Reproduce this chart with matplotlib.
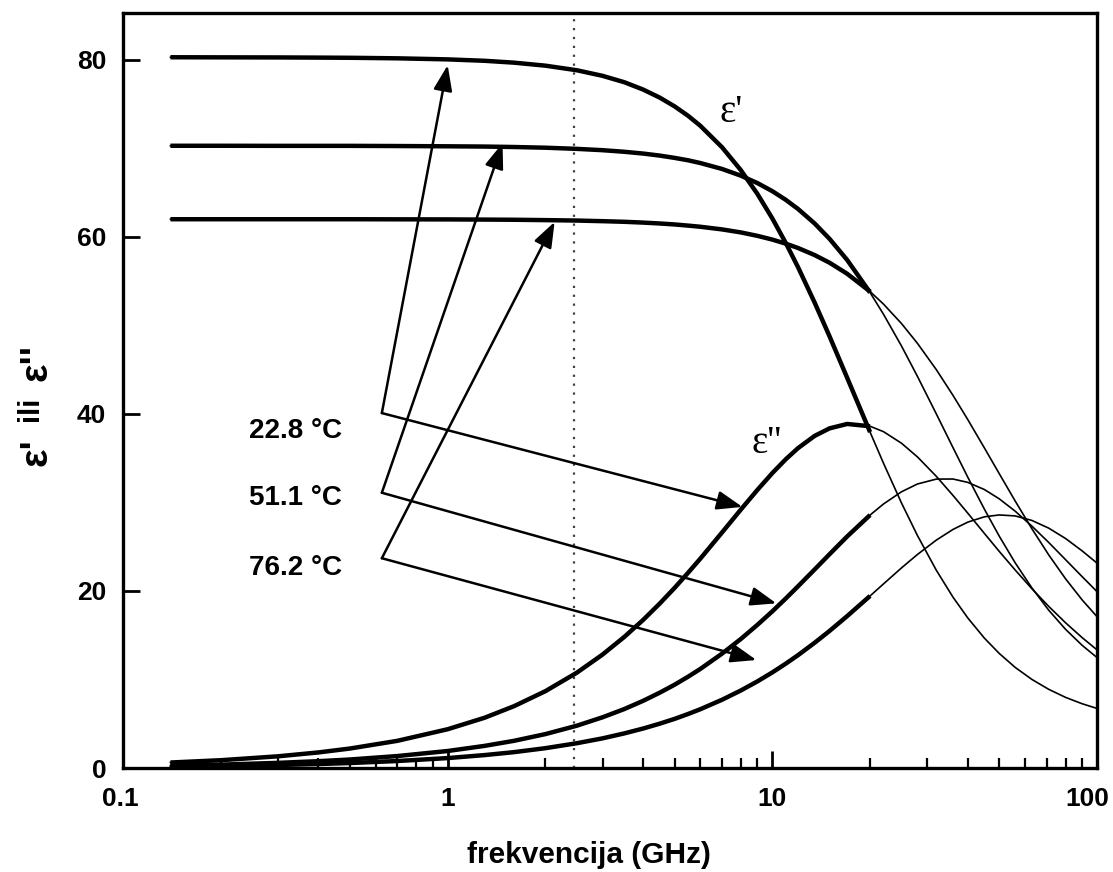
import matplotlib
matplotlib.use("Agg")
import matplotlib.pyplot as plt
import matplotlib.transforms as mtransforms
from matplotlib.ticker import LogLocator, NullFormatter, NullLocator

# ---------------- data ----------------
freq_ghz = [0.14, 0.2, 0.3, 0.4, 0.5, 0.7, 1, 1.3, 1.6, 2, 2.5, 3, 3.5, 4, 4.5,
            5, 5.5, 6, 7, 8, 9, 10, 11, 12, 13.5, 15, 17, 20, 22, 25, 28, 32,
            36, 40, 45, 50, 56, 63, 71, 80, 90, 100]

eps_real_228 = [80.30, 80.29, 80.28, 80.26, 80.24, 80.18, 80.06, 79.90, 79.69, 79.35,
                78.83, 78.20, 77.48, 76.65, 75.74, 74.75, 73.69, 72.56, 70.13, 67.54,
                64.85, 62.09, 59.32, 56.58, 52.58, 48.78, 44.09, 37.95, 34.43, 29.93,
                26.25, 22.34, 19.31, 16.95, 14.67, 12.94, 11.36, 10.01, 8.89, 7.98,
                7.26, 6.73]
eps_real_511 = [70.30, 70.30, 70.29, 70.29, 70.29, 70.27, 70.24, 70.21, 70.16, 70.08,
                69.95, 69.80, 69.62, 69.42, 69.19, 68.93, 68.66, 68.35, 67.68, 66.92,
                66.08, 65.17, 64.19, 63.16, 61.52, 59.79, 57.40, 53.72, 51.26, 47.67,
                44.23, 40.00, 36.21, 32.85, 29.24, 26.19, 23.17, 20.35, 17.83, 15.67,
                13.86, 12.48]
eps_real_762 = [62.00, 62.00, 62.00, 62.00, 62.00, 61.99, 61.98, 61.96, 61.94, 61.90,
                61.85, 61.78, 61.71, 61.62, 61.52, 61.41, 61.28, 61.15, 60.85, 60.51,
                60.12, 59.70, 59.24, 58.75, 57.95, 57.09, 55.84, 53.83, 52.41, 50.21,
                47.97, 45.00, 42.11, 39.36, 36.16, 33.25, 30.15, 27.04, 24.08, 21.38,
                18.99, 17.10]
eps_imag_228 = [0.62, 0.88, 1.32, 1.76, 2.20, 3.07, 4.38, 5.68, 6.98, 8.68,
                10.77, 12.82, 14.81, 16.73, 18.58, 20.35, 22.05, 23.65, 26.61, 29.20,
                31.43, 33.32, 34.88, 36.14, 37.52, 38.37, 38.87, 38.61, 38.00, 36.69,
                35.14, 32.95, 30.80, 28.79, 26.50, 24.47, 22.36, 20.26, 18.26, 16.41,
                14.73, 13.35]
eps_imag_511 = [0.27, 0.38, 0.58, 0.77, 0.96, 1.35, 1.92, 2.50, 3.07, 3.83,
                4.78, 5.73, 6.66, 7.59, 8.51, 9.41, 10.31, 11.19, 12.92, 14.58,
                16.18, 17.70, 19.15, 20.53, 22.43, 24.15, 26.16, 28.58, 29.83, 31.21,
                32.09, 32.64, 32.65, 32.27, 31.46, 30.41, 29.01, 27.33, 25.48, 23.54,
                21.62, 19.93]
eps_imag_762 = [0.16, 0.22, 0.34, 0.45, 0.56, 0.79, 1.12, 1.46, 1.79, 2.24,
                2.80, 3.35, 3.91, 4.46, 5.01, 5.55, 6.10, 6.64, 7.71, 8.76,
                9.79, 10.80, 11.79, 12.75, 14.15, 15.48, 17.16, 19.44, 20.80, 22.61,
                24.13, 25.75, 26.95, 27.78, 28.38, 28.59, 28.48, 27.97, 27.10, 25.93,
                24.53, 23.15]

temperature_labels = ["22.8 \u00b0C", "51.1 \u00b0C", "76.2 \u00b0C"]
measured_max_ghz = 20          # measured (thick) data end here
microwave_ghz = 2.45           # dotted reference line
x_ticks = [0.1, 1, 10, 100]
x_tick_labels = ["0.1", "1", "10", "100"]
y_ticks = [0, 20, 40, 60, 80]

# ---------------- figure ----------------
plt.rcParams["font.family"] = ["Liberation Sans", "DejaVu Sans"]
plt.rcParams["font.weight"] = "bold"

W, H = 1113, 872
fig = plt.figure(figsize=(W / 100, H / 100), dpi=100)
ax = fig.add_axes([123 / W, 1 - 768 / H, (1097 - 123) / W, (768 - 13) / H])
ax.set_xscale("log")
ax.set_xlim(0.1, 100)
ax.set_ylim(0, 85.3)

all_series = [eps_real_228, eps_real_511, eps_real_762,
              eps_imag_228, eps_imag_511, eps_imag_762]
n_meas = sum(1 for f in freq_ghz if f <= measured_max_ghz)
for vals in all_series:
    ax.plot(freq_ghz, vals, color="black", lw=1.2, zorder=3)
    ax.plot(freq_ghz[:n_meas], vals[:n_meas], color="black", lw=3.2,
            solid_capstyle="butt", zorder=4)

ax.axvline(microwave_ghz, color="0.25", lw=1.6, ls=(0, (1, 3)), zorder=2)

# arrows from the temperature labels
vertices = [(0.627, 40.1), (0.627, 31.1), (0.627, 23.7)]
up_tips = [(1.0, 79.4), (1.476, 70.6), (2.135, 61.7)]
down_tips = [(8.09, 29.5), (10.29, 18.6), (8.93, 12.2)]
arrow_kw = dict(arrowstyle="-|>,head_length=0.65,head_width=0.24", color="black",
                lw=1.8, mutation_scale=24, shrinkA=0, shrinkB=0)
for v, u, d in zip(vertices, up_tips, down_tips):
    ax.annotate("", xy=u, xytext=v, arrowprops=arrow_kw, zorder=5)
    ax.annotate("", xy=d, xytext=v, arrowprops=arrow_kw, zorder=5)

label_y_px = [431, 498, 568]
for lab, ypx in zip(temperature_labels, label_y_px):
    fig.text(342 / W, 1 - ypx / H, lab, ha="right", va="center",
             fontsize=20, fontweight="bold")

fig.text(731 / W, 1 - 112 / H, "\u03b5'", ha="center", va="center",
         family="Liberation Serif", fontweight="normal", fontsize=28)
fig.text(767 / W, 1 - 443 / H, "\u03b5''", ha="center", va="center",
         family="Liberation Serif", fontweight="normal", fontsize=28)

# ticks
ax.set_xticks(x_ticks)
ax.set_xticklabels(x_tick_labels)
ax.xaxis.set_minor_locator(LogLocator(base=10, subs=range(2, 10)))
ax.xaxis.set_minor_formatter(NullFormatter())
ax.set_yticks(y_ticks)
ax.yaxis.set_minor_locator(NullLocator())
ax.tick_params(axis="x", which="major", direction="in", length=12, width=2,
               pad=14, labelsize=19)
ax.tick_params(axis="x", which="minor", direction="in", length=7, width=1.6)
ax.tick_params(axis="y", which="major", direction="in", length=12, width=2,
               pad=12, labelsize=19)
for lbl in ax.get_xticklabels() + ax.get_yticklabels():
    lbl.set_fontweight("bold")
xlabels = ax.get_xticklabels()
shifts_px = [-3, 0, 0, -10]
for lbl, dx in zip(xlabels, shifts_px):
    lbl.set_transform(lbl.get_transform() +
                      mtransforms.ScaledTranslation(dx / 100, 0, fig.dpi_scale_trans))
for s in ax.spines.values():
    s.set_linewidth(2.4)

fig.text(589 / W, 1 - 855 / H, "frekvencija (GHz)", ha="center", va="center",
         fontsize=21.5, fontweight="bold")
# rotated y label built from its three parts
fig.text(36 / W, 1 - 452 / H, "\u03b5'", rotation=90, ha="center", va="center",
         fontsize=28, fontweight="bold")
fig.text(30 / W, 1 - 409 / H, "ili", rotation=90, ha="center", va="center",
         fontsize=21, fontweight="bold")
fig.text(36 / W, 1 - 362 / H, "\u03b5''", rotation=90, ha="center", va="center",
         fontsize=28, fontweight="bold")

fig.savefig("out.png", dpi=100)
